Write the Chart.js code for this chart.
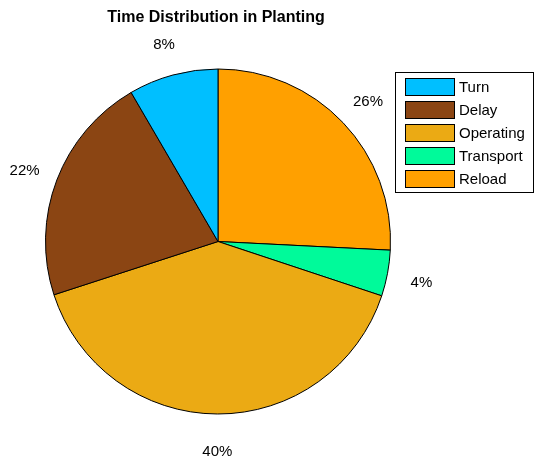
<!DOCTYPE html>
<html><head><meta charset="utf-8">
<script src="https://cdn.jsdelivr.net/npm/chart.js@4/dist/chart.umd.min.js"></script>
<style>html,body{margin:0;padding:0;background:#fff;overflow:hidden}canvas{display:block}</style>
</head><body>
<canvas id="c" width="537" height="463"></canvas>
<script>
const chartTitle = 'Time Distribution in Planting';
const categories = ['Turn', 'Delay', 'Operating', 'Transport', 'Reload'];
const values = [8.4, 21.6, 39.9, 4.3, 25.8];
const colors = ['#00BFFF', '#8B4513', '#EBAA14', '#00FA9A', '#FFA000'];

// MATLAB pie runs counter-clockwise from 12 o'clock; Chart.js runs clockwise,
// so the drawing order is the reversed category order.
const order = categories.map((_, i) => categories.length - 1 - i);
const FONT = "'Liberation Sans', Arial, sans-serif";

const labelPlugin = {
  id: 'matlabPie',
  afterDraw(chart) {
    const ctx = chart.ctx;
    const meta = chart.getDatasetMeta(0);
    const ds = chart.data.datasets[0];
    const total = ds.data.reduce((a, b) => a + b, 0);
    ctx.save();
    // percent labels
    ctx.font = '15px ' + FONT;
    ctx.fillStyle = '#000';
    ctx.textAlign = 'center';
    ctx.textBaseline = 'middle';
    meta.data.forEach((arc, i) => {
      const p = arc.getProps(['x', 'y', 'startAngle', 'endAngle', 'outerRadius'], true);
      const mid = (p.startAngle + p.endAngle) / 2;
      const r = p.outerRadius * 1.2;
      const txt = Math.round(ds.data[i] / total * 100) + '%';
      ctx.fillText(txt, p.x + Math.cos(mid) * r, p.y + Math.sin(mid) * r + 3);
    });
    // title
    ctx.font = 'bold 16px ' + FONT;
    ctx.fillText(chartTitle, 216, 18);
    // legend box
    const bx = 395.5, by = 72.5, bw = 138, bh = 120;
    ctx.fillStyle = '#fff';
    ctx.fillRect(bx, by, bw, bh);
    ctx.strokeStyle = '#000';
    ctx.lineWidth = 1;
    ctx.strokeRect(bx, by, bw, bh);
    ctx.font = '15px ' + FONT;
    ctx.textAlign = 'left';
    categories.forEach((name, i) => {
      const cy = 87 + i * 22.9;
      ctx.fillStyle = colors[i];
      ctx.fillRect(405.5, Math.round(cy - 9) + 0.5, 49, 17);
      ctx.strokeRect(405.5, Math.round(cy - 9) + 0.5, 49, 17);
      ctx.fillStyle = '#000';
      ctx.fillText(name, 459, cy + 1);
    });
    ctx.restore();
  }
};

new Chart(document.getElementById('c'), {
  type: 'pie',
  data: {
    labels: order.map(i => categories[i]),
    datasets: [{
      data: order.map(i => values[i]),
      backgroundColor: order.map(i => colors[i]),
      borderColor: '#000',
      borderWidth: 1,
      hoverOffset: 0
    }]
  },
  options: {
    responsive: false,
    devicePixelRatio: 1,
    animation: false,
    layout: { padding: { left: 45, right: 146, top: 68, bottom: 48 } },
    plugins: {
      legend: { display: false },
      tooltip: { enabled: false },
      title: { display: false }
    }
  },
  plugins: [labelPlugin]
});
</script>
</body></html>
